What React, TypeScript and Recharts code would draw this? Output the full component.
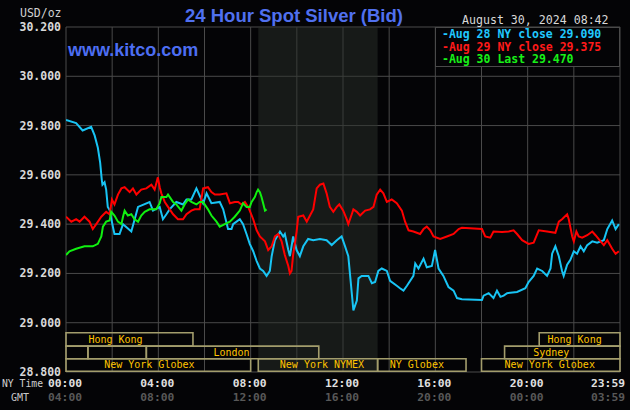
import React from 'react';
import { LineChart, Line, XAxis, YAxis, CartesianGrid, ReferenceArea } from 'recharts';

// axis ticks
const hourTicks = [0, 2, 4, 6, 8, 10, 12, 14, 16, 18, 20, 22, 24];
const priceTicks = [28.8, 29.0, 29.2, 29.4, 29.6, 29.8, 30.0, 30.2];
const nyTimeLabels = ['00:00', '04:00', '08:00', '12:00', '16:00', '20:00', '23:59'];
const gmtLabels = ['04:00', '08:00', '12:00', '16:00', '20:00', '00:00', '03:59'];

// Aug 28 (cyan)
const aug28Hours = [
  0, 0.44, 0.72, 1.09, 1.24, 1.38, 1.48, 1.55, 1.58, 1.67, 1.74, 1.81, 1.89, 2.03, 2.1, 2.32, 2.47, 2.83,
  3.12, 3.62, 3.77, 4.06, 4.2, 4.35, 4.49, 4.78, 5.07, 5.22, 5.43, 5.65, 5.94, 6.09, 6.3, 6.66, 6.81, 7.02,
  7.17, 7.24, 7.53, 7.67, 7.82, 7.96, 8.11, 8.26, 8.4, 8.54, 8.69, 8.83, 8.91, 9.05, 9.27, 9.41, 9.48, 9.63,
  9.7, 9.84, 9.99, 10.13, 10.28, 10.49, 10.71, 11.0, 11.29, 11.51, 11.73, 11.94, 12.09, 12.23, 12.3, 12.38,
  12.45, 12.6, 12.67, 12.81, 13.1, 13.25, 13.39, 13.53, 13.68, 13.9, 14.04, 14.33, 14.47, 14.62, 14.77,
  15.05, 15.13, 15.27, 15.49, 15.63, 15.85, 15.99, 16.14, 16.35, 16.57, 16.79, 16.94, 17.15, 18.02, 18.09,
  18.31, 18.52, 18.67, 18.82, 18.96, 19.11, 19.54, 19.9, 20.04, 20.26, 20.41, 20.63, 20.84, 20.99, 21.06,
  21.2, 21.35, 21.49, 21.56, 21.71, 21.85, 22.0, 22.14, 22.29, 22.43, 22.58, 22.8, 23.01, 23.3, 23.45,
  23.66, 23.81, 23.95,
];
const aug28Prices = [
  29.823, 29.81, 29.78, 29.795, 29.76, 29.71, 29.65, 29.58, 29.56, 29.57, 29.54, 29.47, 29.457, 29.39,
  29.36, 29.36, 29.4, 29.37, 29.47, 29.49, 29.455, 29.47, 29.42, 29.44, 29.46, 29.49, 29.48, 29.5, 29.5,
  29.545, 29.485, 29.525, 29.485, 29.49, 29.46, 29.38, 29.38, 29.4, 29.42, 29.4, 29.36, 29.32, 29.29,
  29.25, 29.22, 29.21, 29.19, 29.21, 29.27, 29.335, 29.37, 29.35, 29.36, 29.295, 29.27, 29.35, 29.295,
  29.27, 29.31, 29.34, 29.335, 29.34, 29.335, 29.315, 29.335, 29.35, 29.31, 29.27, 29.2, 29.12, 29.05,
  29.09, 29.18, 29.19, 29.19, 29.16, 29.165, 29.21, 29.22, 29.21, 29.17, 29.15, 29.14, 29.13, 29.15,
  29.19, 29.24, 29.22, 29.26, 29.225, 29.23, 29.295, 29.22, 29.19, 29.145, 29.13, 29.1, 29.095, 29.092,
  29.11, 29.12, 29.1, 29.13, 29.105, 29.11, 29.12, 29.125, 29.14, 29.165, 29.19, 29.22, 29.21, 29.19,
  29.22, 29.28, 29.31, 29.27, 29.21, 29.19, 29.235, 29.255, 29.29, 29.28, 29.31, 29.29, 29.315, 29.33,
  29.325, 29.335, 29.38, 29.415, 29.38, 29.4,
];

// Aug 29 (red)
const aug29Hours = [
  0, 0.23, 0.44, 0.59, 0.8, 1.02, 1.16, 1.31, 1.53, 1.74, 1.89, 1.99, 2.1, 2.25, 2.4, 2.54, 2.76, 2.9,
  3.05, 3.26, 3.48, 3.7, 3.84, 3.98, 4.06, 4.13, 4.28, 4.42, 4.64, 4.85, 5.07, 5.22, 5.43, 5.58, 5.79,
  5.94, 6.15, 6.3, 6.45, 6.66, 6.95, 7.1, 7.31, 7.46, 7.6, 7.75, 7.89, 7.96, 8.11, 8.26, 8.4, 8.62, 8.76,
  8.91, 9.05, 9.19, 9.34, 9.48, 9.63, 9.7, 9.77, 9.84, 9.99, 10.06, 10.28, 10.43, 10.57, 10.71, 10.86,
  11.0, 11.15, 11.29, 11.43, 11.58, 11.73, 11.84, 12.01, 12.16, 12.23, 12.38, 12.45, 12.6, 12.74, 12.96,
  13.17, 13.32, 13.46, 13.61, 13.75, 13.9, 14.11, 14.33, 14.55, 14.69, 14.84, 15.05, 15.34, 15.49, 15.63,
  15.78, 15.92, 16.21, 16.5, 16.79, 17.01, 17.15, 18.02, 18.16, 18.38, 18.52, 18.89, 19.18, 19.39,
  19.54, 19.76, 20.04, 20.26, 20.48, 20.84, 21.2, 21.35, 21.49, 21.71, 21.78, 21.93, 22.0, 22.11, 22.21,
  22.36, 22.58, 22.8, 22.94, 23.16, 23.3, 23.45, 23.66, 23.81, 23.95,
];
const aug29Prices = [
  29.43, 29.41, 29.42, 29.41, 29.43, 29.41, 29.38, 29.4, 29.43, 29.45, 29.44, 29.5, 29.48, 29.52, 29.545,
  29.55, 29.53, 29.545, 29.52, 29.54, 29.545, 29.56, 29.54, 29.59, 29.55, 29.525, 29.49, 29.47, 29.44,
  29.42, 29.42, 29.44, 29.455, 29.46, 29.46, 29.545, 29.55, 29.53, 29.52, 29.52, 29.525, 29.485, 29.49,
  29.49, 29.48, 29.49, 29.47, 29.455, 29.42, 29.375, 29.35, 29.33, 29.295, 29.31, 29.35, 29.36, 29.33,
  29.275, 29.23, 29.2, 29.21, 29.275, 29.37, 29.43, 29.435, 29.41, 29.435, 29.46, 29.545, 29.56, 29.565,
  29.525, 29.47, 29.45, 29.47, 29.48, 29.455, 29.42, 29.4, 29.44, 29.46, 29.45, 29.435, 29.455, 29.46,
  29.47, 29.52, 29.54, 29.525, 29.49, 29.5, 29.485, 29.455, 29.41, 29.375, 29.37, 29.36, 29.38, 29.39,
  29.375, 29.35, 29.34, 29.35, 29.36, 29.38, 29.385, 29.38, 29.35, 29.345, 29.37, 29.368, 29.37, 29.375,
  29.36, 29.335, 29.32, 29.325, 29.375, 29.37, 29.365, 29.41, 29.42, 29.44, 29.42, 29.35, 29.33, 29.37,
  29.35, 29.345, 29.355, 29.37, 29.355, 29.33, 29.315, 29.335, 29.3, 29.28, 29.29,
];

// Aug 30 (green)
const aug30Hours = [
  0, 0.15, 0.44, 0.8, 1.16, 1.38, 1.48, 1.53, 1.6, 1.74, 1.89, 1.96, 2.1, 2.25, 2.4, 2.47, 2.54, 2.68,
  2.83, 2.97, 3.12, 3.26, 3.41, 3.62, 3.91, 4.06, 4.13, 4.35, 4.42, 4.64, 4.78, 5.0, 5.14, 5.29, 5.43,
  5.65, 5.79, 5.94, 6.15, 6.3, 6.52, 6.66, 6.88, 7.1, 7.31, 7.53, 7.67, 7.82, 7.96, 8.04, 8.18, 8.26,
  8.32, 8.4, 8.47, 8.54, 8.62, 8.69,
];
const aug30Prices = [
  29.275, 29.29, 29.3, 29.31, 29.31, 29.32, 29.34, 29.35, 29.39, 29.41, 29.415, 29.45, 29.435, 29.41,
  29.4, 29.43, 29.455, 29.435, 29.44, 29.42, 29.41, 29.435, 29.45, 29.46, 29.46, 29.485, 29.51, 29.51,
  29.52, 29.49, 29.48, 29.455, 29.48, 29.5, 29.49, 29.48, 29.49, 29.49, 29.46, 29.435, 29.41, 29.39, 29.4,
  29.41, 29.43, 29.455, 29.485, 29.47, 29.47, 29.49, 29.51, 29.53, 29.54, 29.53, 29.51, 29.485, 29.455,
  29.46,
];

const legendLabels = ['Aug 28 NY close 29.090', 'Aug 29 NY close 29.375', 'Aug 30 Last 29.470'];
const seriesColors = ['#18c4f4', '#ff0000', '#10f010'];
const legendColors = ['#20c8ff', '#ff1a1a', '#18f018'];

// trading sessions (NY hours), row 0 = top
const sessionNames = ['Hong Kong', '', '', 'London', 'New York Globex', 'New York NYMEX', 'NY Globex', 'New York Globex', 'Sydney', 'Hong Kong'];
const sessionStart = [0, 0, 0.95, 3.48, 0, 8.33, 13.5, 18, 19, 20.5];
const sessionEnd = [5.5, 0.95, 3.48, 10.95, 8.0, 13.5, 17.33, 24, 24, 24];
const sessionRow = [0, 1, 1, 1, 2, 2, 2, 2, 1, 0];

const nymexOpen = 8.33;
const nymexClose = 13.5;

const toRows = (hours: number[], prices: number[]) => hours.map((t, i) => ({ t, p: prices[i] }));
const series = [toRows(aug28Hours, aug28Prices), toRows(aug29Hours, aug29Prices), toRows(aug30Hours, aug30Prices)];

const mono = '"DejaVu Sans Mono", monospace';
const sans = '"Liberation Sans", Arial, sans-serif';
const rowBounds = [
  [28.959, 28.905],
  [28.905, 28.854],
  [28.854, 28.803],
];
const labelShift = [-14, 0, 0, -1, -9, 4, -5, -1, -11, -5];

const SessionText = (props: any) => {
  const { viewBox, text, dx } = props;
  if (!viewBox || !text) return null;
  return (
    <text
      x={viewBox.x + viewBox.width / 2 + dx}
      y={viewBox.y + viewBox.height - 3}
      textAnchor="middle"
      fill="#ffc400"
      fontFamily={mono}
      fontSize={10}
    >
      {text}
    </text>
  );
};

const YTick = (props: any) => {
  const { y, payload } = props;
  return (
    <text x={61} y={y + 4} textAnchor="end" fill="#d8d8d8" fontFamily={mono} fontSize={11.5} fontWeight="bold">
      {Number(payload.value).toFixed(3)}
    </text>
  );
};

const XTick = (props: any) => {
  const { x, payload } = props;
  const h = payload.value;
  if (h % 4 !== 0) return <g />;
  const i = h / 4;
  const last = i === nyTimeLabels.length - 1;
  const tx = last ? x + 5 : x - 1;
  const anchor = last ? 'end' : 'middle';
  return (
    <g>
      <text x={tx} y={387} textAnchor={anchor} fill="#e0e0e0" fontFamily={mono} fontSize={11.3} fontWeight="bold">
        {nyTimeLabels[i]}
      </text>
      <text x={tx} y={401} textAnchor={anchor} fill="#585858" fontFamily={mono} fontSize={11.3} fontWeight="bold">
        {gmtLabels[i]}
      </text>
    </g>
  );
};

export default function App() {
  return (
    <div style={{ position: 'absolute', left: 0, top: 0, width: 630, height: 410, background: '#040406', overflow: 'hidden' }}>
      <LineChart width={630} height={410} margin={{ top: 27, right: 10, left: 0, bottom: 0 }}>
        <ReferenceArea
          x1={nymexOpen}
          x2={nymexClose}
          y1={28.8}
          y2={30.2}
          fill="#2a302a"
          fillOpacity={0.5}
          stroke="none"
          isFront={false}
        />
        <CartesianGrid stroke="#4a4a4a" strokeWidth={1} />
        <XAxis
          type="number"
          dataKey="t"
          domain={[0, 24]}
          ticks={hourTicks}
          allowDataOverflow
          height={38}
          axisLine={false}
          tickLine={false}
          tick={<XTick />}
          interval={0}
        />
        <YAxis
          type="number"
          domain={[28.8, 30.2]}
          ticks={priceTicks}
          allowDataOverflow
          width={66}
          axisLine={false}
          tickLine={false}
          tick={<YTick />}
          interval={0}
        />
        {sessionNames.map((name, i) => (
          <ReferenceArea
            key={i}
            x1={sessionStart[i]}
            x2={sessionEnd[i]}
            y1={rowBounds[sessionRow[i]][1]}
            y2={rowBounds[sessionRow[i]][0]}
            fill="none"
            fillOpacity={0}
            stroke="#a39d6c"
            strokeWidth={1.6}
            label={<SessionText text={name} dx={labelShift[i]} />}
          />
        ))}
        {series.map((rows, i) => (
          <Line
            key={i}
            data={rows}
            dataKey="p"
            type="linear"
            stroke={seriesColors[i]}
            strokeWidth={2}
            dot={false}
            isAnimationActive={false}
          />
        ))}
      </LineChart>
      <svg width={630} height={410} style={{ position: 'absolute', left: 0, top: 0, pointerEvents: 'none' }}>
        <text x={185} y={22} fill="#5070ef" fontFamily={sans} fontSize={18.5} fontWeight="bold">
          24 Hour Spot Silver (Bid)
        </text>
        <text x={68} y={56} fill="#4d6ef2" fontFamily={sans} fontSize={18} fontWeight="bold">
          www.kitco.com
        </text>
        <text x={20} y={17} fill="#d0d0d0" fontFamily={mono} fontSize={11.5}>
          USD/oz
        </text>
        <text x={462} y={24} fill="#d8d8d8" fontFamily={mono} fontSize={11.6}>
          August 30, 2024 08:42
        </text>
        <text x={2} y={387} fill="#d0d0d0" fontFamily={mono} fontSize={10} textLength={41} lengthAdjust="spacingAndGlyphs">
          NY Time
        </text>
        <text x={11} y={401} fill="#c8c8c8" fontFamily={mono} fontSize={10}>
          GMT
        </text>
        <rect x={435.5} y={27.5} width={184} height={39} fill="#040406" stroke="#4a4a4a" strokeWidth={1} />
        {legendLabels.map((label, i) => (
          <text key={i} x={442} y={38 + i * 12.6} fill={legendColors[i]} fontFamily={mono} fontSize={11.5} fontWeight="bold">
            {'-' + label}
          </text>
        ))}
      </svg>
    </div>
  );
}
